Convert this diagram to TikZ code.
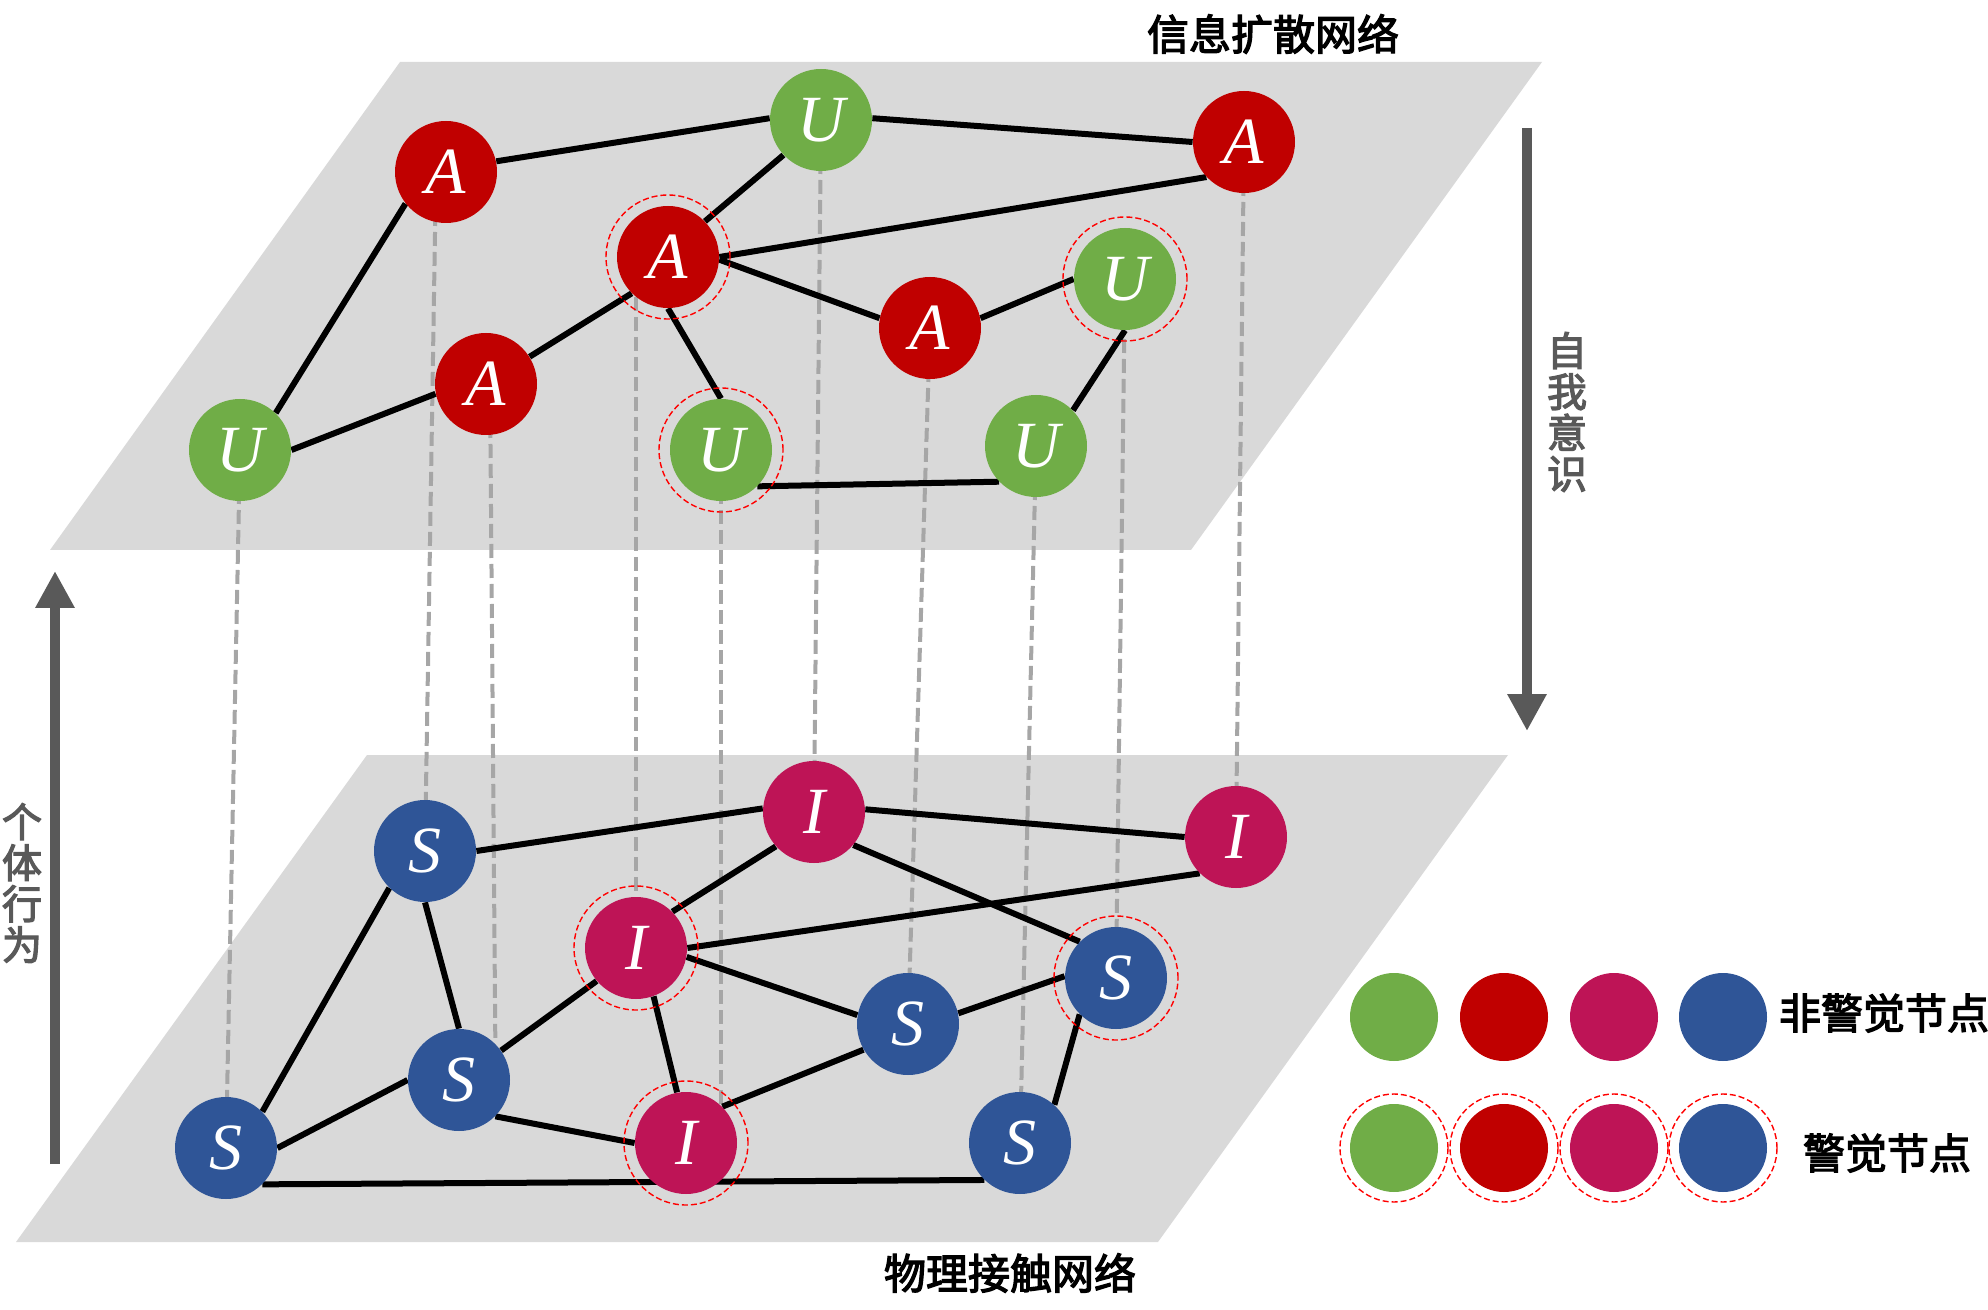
\documentclass[tikz,border=0pt]{standalone}
\usepackage{fontspec}
\setmainfont{Liberation Serif}
\newfontfamily\cjk{Noto Sans CJK SC}[BoldFont={Noto Sans CJK SC},BoldFeatures={FakeBold=3}]
\usetikzlibrary{arrows.meta}
\pgfdeclarelayer{bg}
\pgfdeclarelayer{lines}
\pgfsetlayers{bg,lines,main}
\definecolor{cgreen}{HTML}{70AD47}
\definecolor{cred}{HTML}{C00000}
\definecolor{cmag}{HTML}{BE1456}
\definecolor{cblue}{HTML}{2F5597}
\definecolor{plane}{HTML}{D9D9D9}
\definecolor{dgray}{HTML}{A6A6A6}
\definecolor{agray}{HTML}{595959}
\begin{document}
\begin{tikzpicture}[x=0.5pt,y=-0.5pt,
  nd/.style={circle,minimum size=51pt,inner sep=0pt,text=white,font=\fontsize{33}{33}\selectfont\itshape},
  gn/.style={nd,fill=cgreen},
  rn/.style={nd,fill=cred},
  mn/.style={nd,fill=cmag},
  bn/.style={nd,fill=cblue},
  lg/.style={circle,minimum size=44pt,inner sep=0pt},
  ringst/.style={draw=red,line width=0.7pt,dash pattern=on 3pt off 1.5pt},
  edge/.style={line width=3pt,black},
  dline/.style={line width=2pt,dgray,dash pattern=on 7pt off 3pt},
  bigarrow/.style={agray,line width=5pt,-{Triangle[width=18.5pt,length=18.5pt]}},
  cjklab/.style={font=\cjk\bfseries\fontsize{21}{21}\selectfont,inner sep=0pt},
  vlab/.style={font=\cjk\bfseries\fontsize{20}{20.5}\selectfont,text=agray,align=center,inner sep=0pt}
]
\useasboundingbox (0,0) rectangle (1988,1310);

% planes
\begin{pgfonlayer}{bg}
\fill[plane] (400,62) -- (1542,62) -- (1191,550) -- (50,550) -- cycle;
\fill[plane] (367,755) -- (1508,755) -- (1158,1242) -- (16,1242) -- cycle;
\end{pgfonlayer}

% top layer nodes
\node[rn] (A1) at (446,172) {A};
\node[gn] (Utop) at (821,120) {U};
\node[rn] (Aright) at (1244,142) {A};
\node[rn] (Aring) at (668,257) {A};
\node[rn] (Amid) at (930,328) {A};
\node[rn] (Alow) at (486,384) {A};
\node[gn] (Uleft) at (240,450) {U};
\node[gn] (Uring) at (721,450) {U};
\node[gn] (Uringr) at (1125,279) {U};
\node[gn] (Ulr) at (1036,446) {U};

% bottom layer nodes
\node[bn] (S1) at (425,851) {S};
\node[mn] (Itop) at (814,812) {I};
\node[mn] (Iright) at (1236,837) {I};
\node[mn] (Iup) at (636,948) {I};
\node[bn] (Smid) at (459,1080) {S};
\node[bn] (Sbl) at (226,1148) {S};
\node[mn] (Ilow) at (686,1143) {I};
\node[bn] (Scr) at (908,1024) {S};
\node[bn] (Sringr) at (1116,978) {S};
\node[bn] (Slr) at (1020,1143) {S};

% rings
\foreach \n in {Aring,Uring,Uringr,Iup,Ilow,Sringr}
  \draw[ringst] (\n.center) circle[radius=31pt];

\begin{pgfonlayer}{lines}
% dashed inter-layer links
\draw[dline] (Uleft.center) -- (Sbl.center);
\draw[dline] ([xshift=-5pt]A1.center) -- (S1.center);
\draw[dline] ([xshift=2pt]Alow.center) -- (Smid.north east);
\draw[dline] (Aring.center -| Iup.center) -- (Iup.center);
\draw[dline] (Uring.center) -- (Uring.center |- Ilow.center);
\draw[dline] (Utop.center) -- (Itop.center);
\draw[dline] (Amid.center) -- (Scr.center);
\draw[dline] (Ulr.center) -- (Slr.center);
\draw[dline] (Uringr.center) -- (Sringr.center);
\draw[dline] (Aright.center) -- (Iright.center);
% top edges
\draw[edge] (A1.12) -- (Utop.178);
\draw[edge] (Utop.2) -- (Aright.west);
\draw[edge] (A1.-142) -- (Uleft.46);
\draw[edge] (Utop.-137) -- (Aring.44);
\draw[edge] (Aring.east) -- (Aright.-137);
\draw[edge] (Aring.-3) -- (Amid.169);
\draw[edge] (Aring.-135) -- (Alow.32);
\draw[edge] (Aring.south) -- (Uring.north);
\draw[edge] (Alow.-169) -- (Uleft.east);
\draw[edge] (Amid.11) -- (Uringr.west);
\draw[edge] (Uringr.south) -- (Ulr.44);
\draw[edge] (Uring.-45) -- (Ulr.-136);
% bottom edges
\draw[edge] (S1.east) -- (Itop.176);
\draw[edge] (Itop.3) -- (Iright.west);
\draw[edge] (Itop.-40) -- (Sringr.135);
\draw[edge] (Itop.-138) -- (Iup.45);
\draw[edge] (Iup.east) -- (Iright.-135);
\draw[edge] (Iup.-10) -- (Scr.170);
\draw[edge] (Iup.-140) -- (Smid.35);
\draw[edge] (Iup.-70) -- (Ilow.100);
\draw[edge] (S1.-134) -- (Sbl.45);
\draw[edge] (S1.south) -- (Smid.north);
\draw[edge] (Smid.west) -- (Sbl.east);
\draw[edge] (Smid.-45) -- (Ilow.west);
\draw[edge] (Ilow.45) -- (Scr.210);
\draw[edge] (Scr.12) -- (Sringr.178);
\draw[edge] (Sringr.-135) -- (Slr.48);
\draw[edge] (Sbl.-45) -- (Slr.-134);
\end{pgfonlayer}

% side arrows
\coordinate (la0) at (55,1164);
\coordinate (la1) at (55,571);
\draw[bigarrow] (la0) -- (la1);
\node[vlab] (lt) at (22,883) {个\\体\\行\\为};
\coordinate (ra0) at (1527,128);
\coordinate (ra1) at (1527,731);
\draw[bigarrow] (ra0) -- (ra1);
\node[vlab] (rt) at (1567,412) {自\\我\\意\\识};

% titles
\node[cjklab] (t1) at (1273,34) {信息扩散网络};
\node[cjklab] (t2) at (1010,1273) {物理接触网络};

% legend
\node[lg,fill=cgreen] (g1) at (1394,1017) {};
\node[lg,fill=cred] (g2) at (1504,1017) {};
\node[lg,fill=cmag] (g3) at (1614,1017) {};
\node[lg,fill=cblue] (g4) at (1723,1017) {};
\node[lg,fill=cgreen] (h1) at (1394,1148) {};
\node[lg,fill=cred] (h2) at (1504,1148) {};
\node[lg,fill=cmag] (h3) at (1614,1148) {};
\node[lg,fill=cblue] (h4) at (1723,1148) {};
\foreach \n in {h1,h2,h3,h4}
  \draw[ringst] (\n.center) circle[radius=27pt];
\node[cjklab] (l1) at (1884,1013) {非警觉节点};
\node[cjklab] (l2) at (1887,1153) {警觉节点};
\end{tikzpicture}
\end{document}
